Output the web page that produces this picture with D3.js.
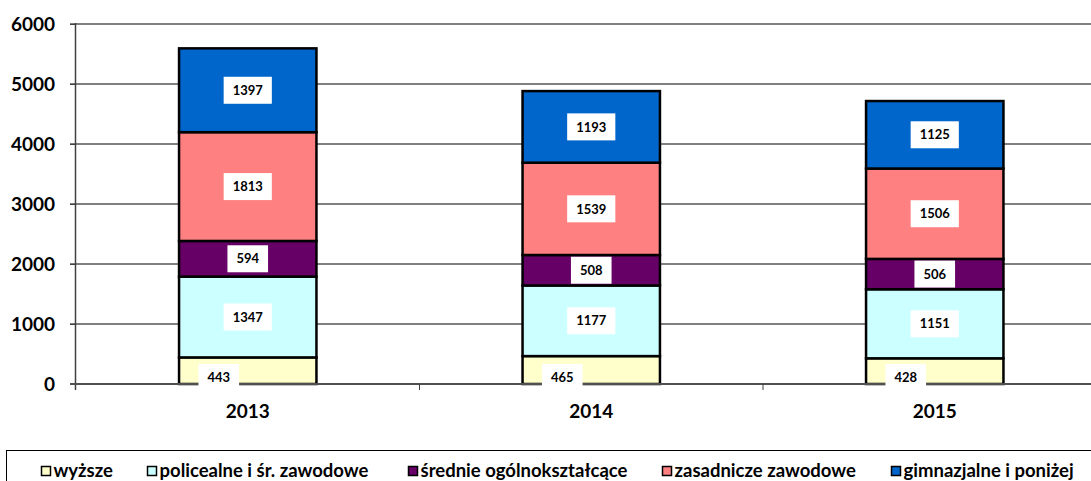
<!DOCTYPE html>
<html><head><meta charset="utf-8">
<script src="https://cdn.jsdelivr.net/npm/d3@7/dist/d3.min.js"></script>
<style>
html,body{margin:0;padding:0;background:#fff;overflow:hidden}
svg{display:block;font-family:Lato,"Open Sans",sans-serif;font-weight:bold}
</style></head>
<body>
<svg id="c" width="1091" height="481"></svg>
<script>
const categories = ["2013", "2014", "2015"];
const seriesNames = ["wyższe", "policealne i śr. zawodowe", "średnie ogólnokształcące", "zasadnicze zawodowe", "gimnazjalne i poniżej"];
const wyzsze      = [443, 465, 428];
const policealne  = [1347, 1177, 1151];
const srednie     = [594, 508, 506];
const zasadnicze  = [1813, 1539, 1506];
const gimnazjalne = [1397, 1193, 1125];
const yTicks = [0, 1000, 2000, 3000, 4000, 5000, 6000];
const colors = ["#FFFFCC", "#CCFFFF", "#660066", "#FF8080", "#0066CC"];

(function () {
const seriesValues = [wyzsze, policealne, srednie, zasadnicze, gimnazjalne];
const svg = d3.select("#c");
const pL = 76, pR = 1106.5, pT = 24, pB = 384;
const FW = "bold";

const x = d3.scaleBand().domain(categories).range([pL, pR]).padding(0);
const y = d3.scaleLinear().domain([0, 6000]).range([pB, pT]);

const rows = categories.map((c, i) => {
  const r = {cat: c};
  seriesNames.forEach((s, k) => r[s] = seriesValues[k][i]);
  return r;
});
const stacked = d3.stack().keys(seriesNames)(rows);

svg.append("g").selectAll("line").data(yTicks.filter(t => t > 0 && t < 6000)).join("line")
  .attr("x1", pL - 6).attr("x2", 1091).attr("y1", d => y(d)).attr("y2", d => y(d))
  .attr("stroke", "#000").attr("stroke-width", 1);
svg.append("line").attr("x1", pL - 6).attr("x2", 1091).attr("y1", y(6000)).attr("y2", y(6000))
  .attr("stroke", "#808080").attr("stroke-width", 2);

const yAxis = svg.append("g").attr("transform", `translate(${pL},0)`)
  .call(d3.axisLeft(y).tickValues(yTicks).tickSize(6).tickPadding(15).tickFormat(d3.format("d")));
yAxis.select(".domain").remove();
yAxis.selectAll(".tick line").attr("stroke", "#404040").attr("stroke-width", 1);
yAxis.selectAll(".tick text").attr("font-size", 19).attr("font-family", "Lato").attr("font-weight", FW).attr("fill", "#000");
svg.append("line").attr("x1", pL - 0.5).attr("x2", pL - 0.5).attr("y1", pT - 1).attr("y2", pB + 6)
  .attr("stroke", "#404040").attr("stroke-width", 1.5);

const bw = x.bandwidth() * 0.4;
const layers = svg.append("g").selectAll("g").data(stacked).join("g").attr("fill", (d, i) => colors[i]);
layers.selectAll("rect").data(d => d).join("rect")
  .attr("x", d => x(d.data.cat) + x.bandwidth() / 2 - bw / 2)
  .attr("width", bw)
  .attr("y", d => y(d[1]))
  .attr("height", d => y(d[0]) - y(d[1]))
  .attr("stroke", "#000").attr("stroke-width", 2.5);

const xAxis = svg.append("g").attr("transform", `translate(0,${pB})`)
  .call(d3.axisBottom(x).tickSize(0).tickPadding(21));
xAxis.select(".domain").remove();
xAxis.selectAll(".tick text").attr("font-size", 19).attr("font-family", "Lato").attr("font-weight", FW).attr("fill", "#000");
svg.append("line").attr("x1", pL - 6).attr("x2", 1091).attr("y1", pB).attr("y2", pB)
  .attr("stroke", "#505050").attr("stroke-width", 2);
svg.append("g").selectAll("line").data(categories.slice(1)).join("line")
  .attr("x1", d => x(d)).attr("x2", d => x(d)).attr("y1", pB).attr("y2", pB + 6)
  .attr("stroke", "#404040").attr("stroke-width", 1);

const lab = svg.append("g");
stacked.forEach((layer, k) => {
  layer.forEach(d => {
    let cx = x(d.data.cat) + x.bandwidth() / 2;
    let cy = (y(d[0]) + y(d[1])) / 2;
    if (k === 0) { cx -= 29; cy = pB - 7; }
    const txt = String(d.data[layer.key]);
    const g = lab.append("g").attr("transform", `translate(${cx},${cy})`);
    const t = g.append("text").attr("text-anchor", "middle").attr("dy", "0.36em")
      .attr("font-size", 13).attr("font-family", "Lato").attr("font-weight", FW).attr("fill", "#000").text(txt);
    const w = t.node().getComputedTextLength() + 18;
    const h = k === 0 ? 22 : 27;
    g.insert("rect", "text").attr("x", -w / 2).attr("y", k === 0 ? -13 : -h / 2).attr("width", w).attr("height", h).attr("fill", "#fff");
  });
});

svg.append("rect").attr("x", 6.5).attr("y", 450.5).attr("width", 1100).attr("height", 40)
  .attr("fill", "none").attr("stroke", "#000").attr("stroke-width", 1);
const legendX = [41, 147, 408, 662, 891];
const lg = svg.append("g").selectAll("g").data(seriesNames).join("g")
  .attr("transform", (d, i) => `translate(${legendX[i]},466)`);
lg.append("rect").attr("x", 0.5).attr("y", 0.5).attr("width", 9).attr("height", 9)
  .attr("fill", (d, i) => colors[i]).attr("stroke", "#000").attr("stroke-width", 1.5);
lg.append("text").attr("x", 12.5).attr("y", 11).attr("font-size", 18.5).attr("font-family", "Lato")
  .attr("font-weight", FW).attr("fill", "#000").text(d => d);
})();
</script>
</body></html>
